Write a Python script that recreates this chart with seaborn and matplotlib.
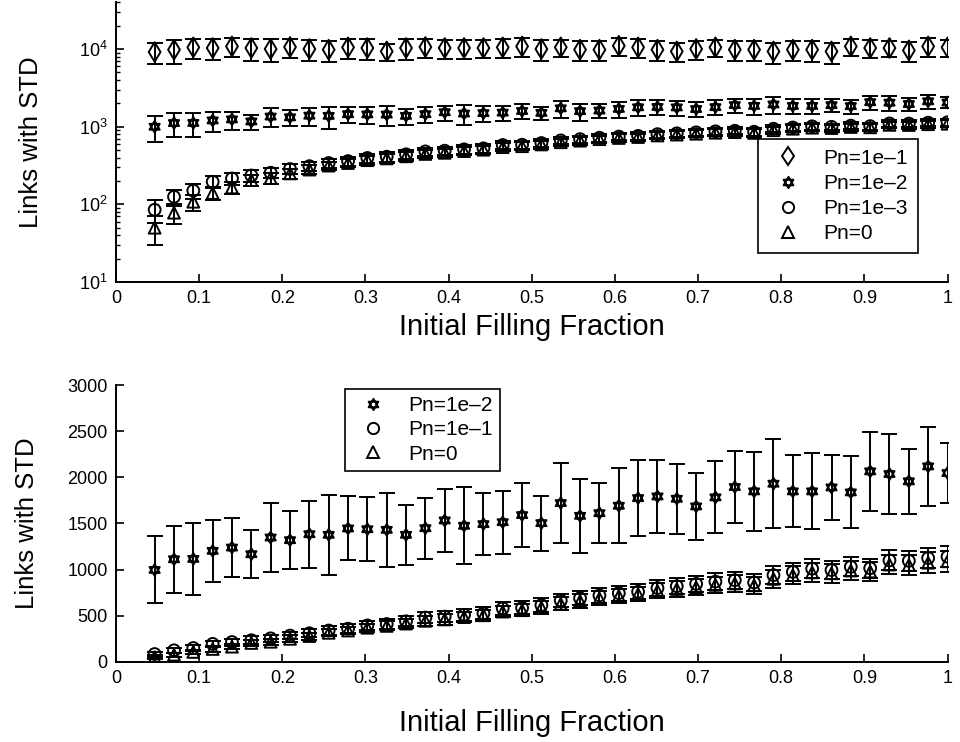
import matplotlib
matplotlib.use("Agg")
import matplotlib.pyplot as plt
import seaborn as sns
from matplotlib.path import Path
from matplotlib.lines import Line2D

# ---------------- data ----------------
frac = [0.0465, 0.0698, 0.0930, 0.1163, 0.1395, 0.1628, 0.1860, 0.2093, 0.2326, 0.2558,
        0.2791, 0.3023, 0.3256, 0.3488, 0.3721, 0.3953, 0.4186, 0.4419, 0.4651, 0.4884,
        0.5116, 0.5349, 0.5581, 0.5814, 0.6047, 0.6279, 0.6512, 0.6744, 0.6977, 0.7209,
        0.7442, 0.7674, 0.7907, 0.8140, 0.8372, 0.8605, 0.8837, 0.9070, 0.9302, 0.9535,
        0.9767, 1.0000]

pn1e1 = [9150, 9800, 10500, 10300, 10800, 10300, 10000, 10600, 10000, 9800,
         10500, 10300, 9300, 10300, 10600, 10300, 10300, 10300, 10500, 10800,
         10000, 10500, 9800, 9800, 11000, 10500, 9800, 9300, 10000, 10500,
         9800, 9800, 9300, 9800, 9800, 9300, 10800, 10300, 10300, 9600,
         10800, 10500]
pn1e1_std = [2700, 3300, 3000, 3000, 2900, 3200, 3300, 2900, 3100, 3000,
             3000, 3100, 2400, 3100, 2900, 2900, 2900, 2700, 2800, 2900,
             3000, 2700, 2900, 2900, 2800, 2900, 2800, 2500, 2700, 2700,
             2800, 2800, 2800, 2700, 3000, 2800, 2700, 2600, 2500, 2800,
             2900, 2700]

pn1e2 = [996, 1112, 1116, 1203, 1239, 1167, 1348, 1319, 1384, 1377,
         1446, 1438, 1431, 1377, 1449, 1533, 1475, 1493, 1514, 1591,
         1504, 1721, 1583, 1612, 1692, 1775, 1793, 1768, 1685, 1783,
         1895, 1848, 1931, 1848, 1848, 1891, 1837, 2065, 2036, 1957,
         2119, 2047]
pn1e2_std = [363, 366, 386, 339, 322, 262, 371, 311, 362, 433,
             347, 344, 402, 324, 330, 338, 418, 337, 342, 344,
             298, 435, 403, 326, 407, 416, 393, 380, 367, 389,
             388, 426, 484, 391, 411, 355, 391, 427, 438, 353,
             431, 326]

pn1e3 = [85, 125, 150, 195, 215, 235, 255, 285, 310, 340,
         360, 395, 410, 440, 480, 490, 510, 525, 580, 585,
         615, 665, 690, 720, 745, 760, 800, 820, 845, 870,
         885, 860, 940, 975, 1010, 995, 1030, 1015, 1100, 1095,
         1125, 1140]
pn1e3_std = [27, 30, 32, 35, 38, 40, 40, 42, 45, 48,
             50, 52, 55, 55, 58, 60, 62, 65, 68, 70,
             72, 75, 75, 78, 80, 82, 85, 85, 88, 90,
             92, 95, 95, 98, 100, 100, 102, 105, 108, 110,
             112, 115]

pn0 = [50, 78, 108, 140, 165, 205, 218, 250, 280, 315,
       340, 370, 390, 415, 445, 460, 485, 505, 545, 560,
       590, 630, 660, 690, 715, 735, 770, 790, 810, 835,
       850, 830, 900, 940, 970, 960, 990, 980, 1055, 1050,
       1075, 1090]
pn0_std = [20, 22, 25, 28, 30, 32, 34, 36, 38, 40,
           42, 45, 48, 50, 52, 55, 58, 60, 62, 65,
           68, 70, 72, 75, 78, 80, 82, 85, 85, 88,
           90, 92, 95, 98, 100, 100, 102, 105, 108, 110,
           112, 115]

x_ticks = [0, 0.1, 0.2, 0.3, 0.4, 0.5, 0.6, 0.7, 0.8, 0.9, 1.0]
x_tick_labels = ["0", "0.1", "0.2", "0.3", "0.4", "0.5", "0.6", "0.7", "0.8", "0.9", "1"]
top_y_ticks = [10, 100, 1000, 10000]
top_y_tick_labels = ["$10^{1}$", "$10^{2}$", "$10^{3}$", "$10^{4}$"]
bottom_y_ticks = [0, 500, 1000, 1500, 2000, 2500, 3000]
bottom_y_tick_labels = ["0", "500", "1000", "1500", "2000", "2500", "3000"]
top_labels = ["Pn=1e\u20131", "Pn=1e\u20132", "Pn=1e\u20133", "Pn=0"]
bottom_labels = ["Pn=1e\u20132", "Pn=1e\u20131", "Pn=0"]
y_title = "Links with STD"
x_title = "Initial Filling Fraction"

# ---------------- style ----------------
sns.set_style("ticks")
plt.rcParams["font.family"] = ["Liberation Sans", "DejaVu Sans"]
plt.rcParams["mathtext.fontset"] = "custom"
plt.rcParams["mathtext.rm"] = "Liberation Sans"
plt.rcParams["mathtext.it"] = "Liberation Sans:italic"
plt.rcParams["xtick.direction"] = "in"
plt.rcParams["ytick.direction"] = "in"
plt.rcParams["text.color"] = "black"
plt.rcParams["axes.labelcolor"] = "black"
plt.rcParams["xtick.color"] = "black"
plt.rcParams["ytick.color"] = "black"

star = Path([(0, 1), (-0.866, -0.5), (0.866, -0.5), (0, 1),
             (0, -1), (-0.866, 0.5), (0.866, 0.5), (0, -1)],
            [Path.MOVETO, Path.LINETO, Path.LINETO, Path.CLOSEPOLY] * 2)

MK = {"d": ("d", 10.0), "star": (star, 8.5), "o": ("o", 8.5), "^": ("^", 8.5)}

fig = plt.figure(figsize=(9.6, 7.42), dpi=100)
ax1 = fig.add_axes([0.1208, 0.620, 0.8662, 0.377])
ax2 = fig.add_axes([0.1208, 0.108, 0.8662, 0.373])


def draw(ax, y, err, key):
    marker, ms = MK[key]
    ax.errorbar(frac, y, yerr=err, fmt="none", ecolor="black", elinewidth=1.4,
                capsize=5.5, capthick=1.4, zorder=2)
    sns.scatterplot(x=frac, y=y, ax=ax, marker=marker, s=ms ** 2, color="black",
                    facecolor="none", edgecolor="black", linewidth=1.4, zorder=3,
                    legend=False)


def handle(key):
    marker, ms = MK[key]
    return Line2D([], [], ls="none", marker=marker, ms=ms * 0.95, mfc="none",
                  mec="black", mew=1.4)


# top panel (log)
ax1.set_yscale("log")
draw(ax1, pn1e1, pn1e1_std, "d")
draw(ax1, pn1e2, pn1e2_std, "star")
draw(ax1, pn1e3, pn1e3_std, "o")
draw(ax1, pn0, pn0_std, "^")
ax1.set_xlim(0, 1)
ax1.set_ylim(10, 40000)
ax1.set_yticks(top_y_ticks)
ax1.set_yticklabels(top_y_tick_labels)

leg1 = ax1.legend([handle(k) for k in ["d", "star", "o", "^"]], top_labels,
                  loc="lower right", bbox_to_anchor=(0.964, 0.104), borderaxespad=0,
                  fontsize=15, frameon=True, fancybox=False, edgecolor="black",
                  framealpha=1, borderpad=0.45, handlelength=2.0, handletextpad=0.7,
                  labelspacing=0.3)
leg1.get_frame().set_linewidth(1.2)

# bottom panel (linear)
draw(ax2, pn1e2, pn1e2_std, "star")
draw(ax2, pn1e3, pn1e3_std, "o")
draw(ax2, pn0, pn0_std, "^")
ax2.set_xlim(0, 1)
ax2.set_ylim(0, 3000)
ax2.set_yticks(bottom_y_ticks)
ax2.set_yticklabels(bottom_y_tick_labels)

leg2 = ax2.legend([handle(k) for k in ["star", "o", "^"]], bottom_labels,
                  loc="upper left", bbox_to_anchor=(0.2756, 0.986), borderaxespad=0,
                  fontsize=15, frameon=True, fancybox=False, edgecolor="black",
                  framealpha=1, borderpad=0.35, handlelength=2.0, handletextpad=0.7,
                  labelspacing=0.25)
leg2.get_frame().set_linewidth(1.2)

for ax, lp, ylp in ((ax1, 4, 26), (ax2, 16, 20)):
    ax.set_xticks(x_ticks)
    ax.set_xticklabels(x_tick_labels)
    sns.despine(ax=ax)
    for s in ("left", "bottom"):
        ax.spines[s].set_linewidth(1.4)
        ax.spines[s].set_color("black")
    ax.tick_params(axis="both", which="major", length=6, width=1.2, labelsize=13,
                   colors="black", pad=6)
    ax.tick_params(axis="both", which="minor", length=3, width=1.0, colors="black")
    ax.set_xlabel(x_title, fontsize=21, labelpad=lp)
    ax.set_ylabel(y_title, fontsize=18.5, labelpad=ylp)

fig.savefig("out.png", dpi=100)
